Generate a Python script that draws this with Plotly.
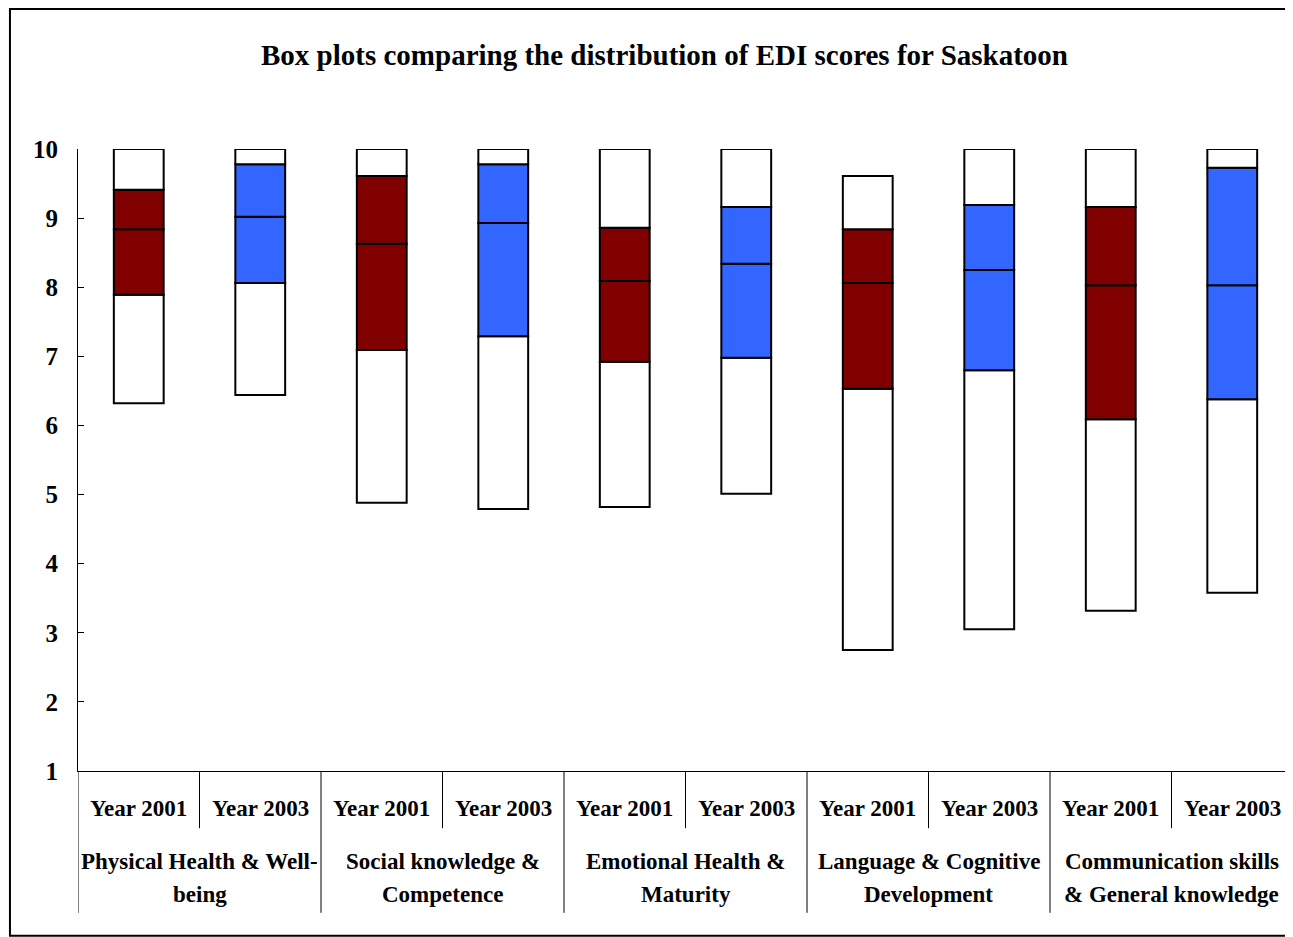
import plotly.graph_objects as go

# EDI box plot summary values
years = ["Year 2001", "Year 2003"] * 5
domains = [
    ("Physical Health & Well-", "being"),
    ("Social knowledge &", "Competence"),
    ("Emotional Health &", "Maturity"),
    ("Language & Cognitive", "Development"),
    ("Communication skills", "& General knowledge"),
]
mins = [6.32, 6.44, 4.88, 4.79, 4.82, 5.01, 2.75, 3.05, 3.32, 3.58]
q1s = [7.89, 8.06, 7.09, 7.29, 6.92, 6.98, 6.53, 6.80, 6.09, 6.38]
medians = [8.84, 9.02, 8.63, 8.93, 8.09, 8.34, 8.06, 8.25, 8.03, 8.03]
q3s = [9.41, 9.78, 9.61, 9.78, 8.86, 9.16, 8.84, 9.19, 9.16, 9.73]
maxs = [10.0, 10.0, 10.0, 10.0, 10.0, 10.0, 9.61, 10.0, 10.0, 10.0]

YEAR_COLORS = {"Year 2001": "#800000", "Year 2003": "#3366FF"}
FONT = "Liberation Serif"

xs = list(range(len(years)))
box_colors = [YEAR_COLORS[y] for y in years]

fig = go.Figure()

segments = [
    (mins, q1s, "white"),
    (q1s, medians, box_colors),
    (medians, q3s, box_colors),
    (q3s, maxs, "white"),
]
for lo, hi, color in segments:
    fig.add_trace(go.Bar(
        x=xs,
        y=[h - l for l, h in zip(lo, hi)],
        base=lo,
        width=0.41,
        marker=dict(color=color, line=dict(color="black", width=2)),
        showlegend=False,
        hoverinfo="skip",
    ))

# hierarchical x labels and separators
label_font = dict(family=FONT, size=23, color="black")
shapes = []
annotations = []
for i, yr in enumerate(years):
    annotations.append(dict(
        x=i, y=-0.061, xref="x", yref="paper", yanchor="middle",
        text=f"<b>{yr}</b>", showarrow=False, font=label_font,
    ))
for i, (line1, line2) in enumerate(domains):
    shapes.append(dict(type="line", xref="x", yref="paper",
                       x0=2 * i + 0.5, x1=2 * i + 0.5, y0=0, y1=-0.092,
                       line=dict(color="black", width=1)))
    shapes.append(dict(type="line", xref="x", yref="paper",
                       x0=2 * i - 0.5, x1=2 * i - 0.5, y0=0, y1=-0.228,
                       line=dict(color="black", width=1)))
    for txt, yy in ((line1, -0.146), (line2, -0.199)):
        annotations.append(dict(
            x=2 * i + 0.5, y=yy, xref="x", yref="paper", yanchor="middle",
            text=f"<b>{txt}</b>", showarrow=False, font=label_font,
        ))

# outer frame
shapes.append(dict(type="rect", xref="paper", yref="paper",
                   x0=-0.056, x1=1.02, y0=-0.265, y1=1.225,
                   line=dict(color="black", width=2), layer="below"))

annotations.append(dict(
    x=0.483, y=1.151, xref="paper", yref="paper", yanchor="middle",
    text="<b>Box plots comparing the distribution of EDI scores for Saskatoon</b>",
    showarrow=False, font=dict(family=FONT, size=29, color="black"),
))

fig.update_layout(
    width=1285,
    height=929,
    barmode="overlay",
    plot_bgcolor="white",
    paper_bgcolor="white",
    margin=dict(l=70, r=0, t=141, b=166),
    shapes=shapes,
    annotations=annotations,
    xaxis=dict(range=[-0.5, 9.5], showticklabels=False, ticks="",
               showgrid=False, zeroline=False, showline=True,
               linecolor="black", linewidth=1),
    yaxis=dict(range=[1, 10], dtick=1, showgrid=False, zeroline=False,
               showline=True, linecolor="black", linewidth=1,
               ticks="inside", ticklen=6, tickcolor="black",
               ticklabelstandoff=14,
               tickfont=dict(family=FONT, size=25, color="black"),
               tickprefix="<b>", ticksuffix="</b>"),
)

fig.write_html("out.html")
